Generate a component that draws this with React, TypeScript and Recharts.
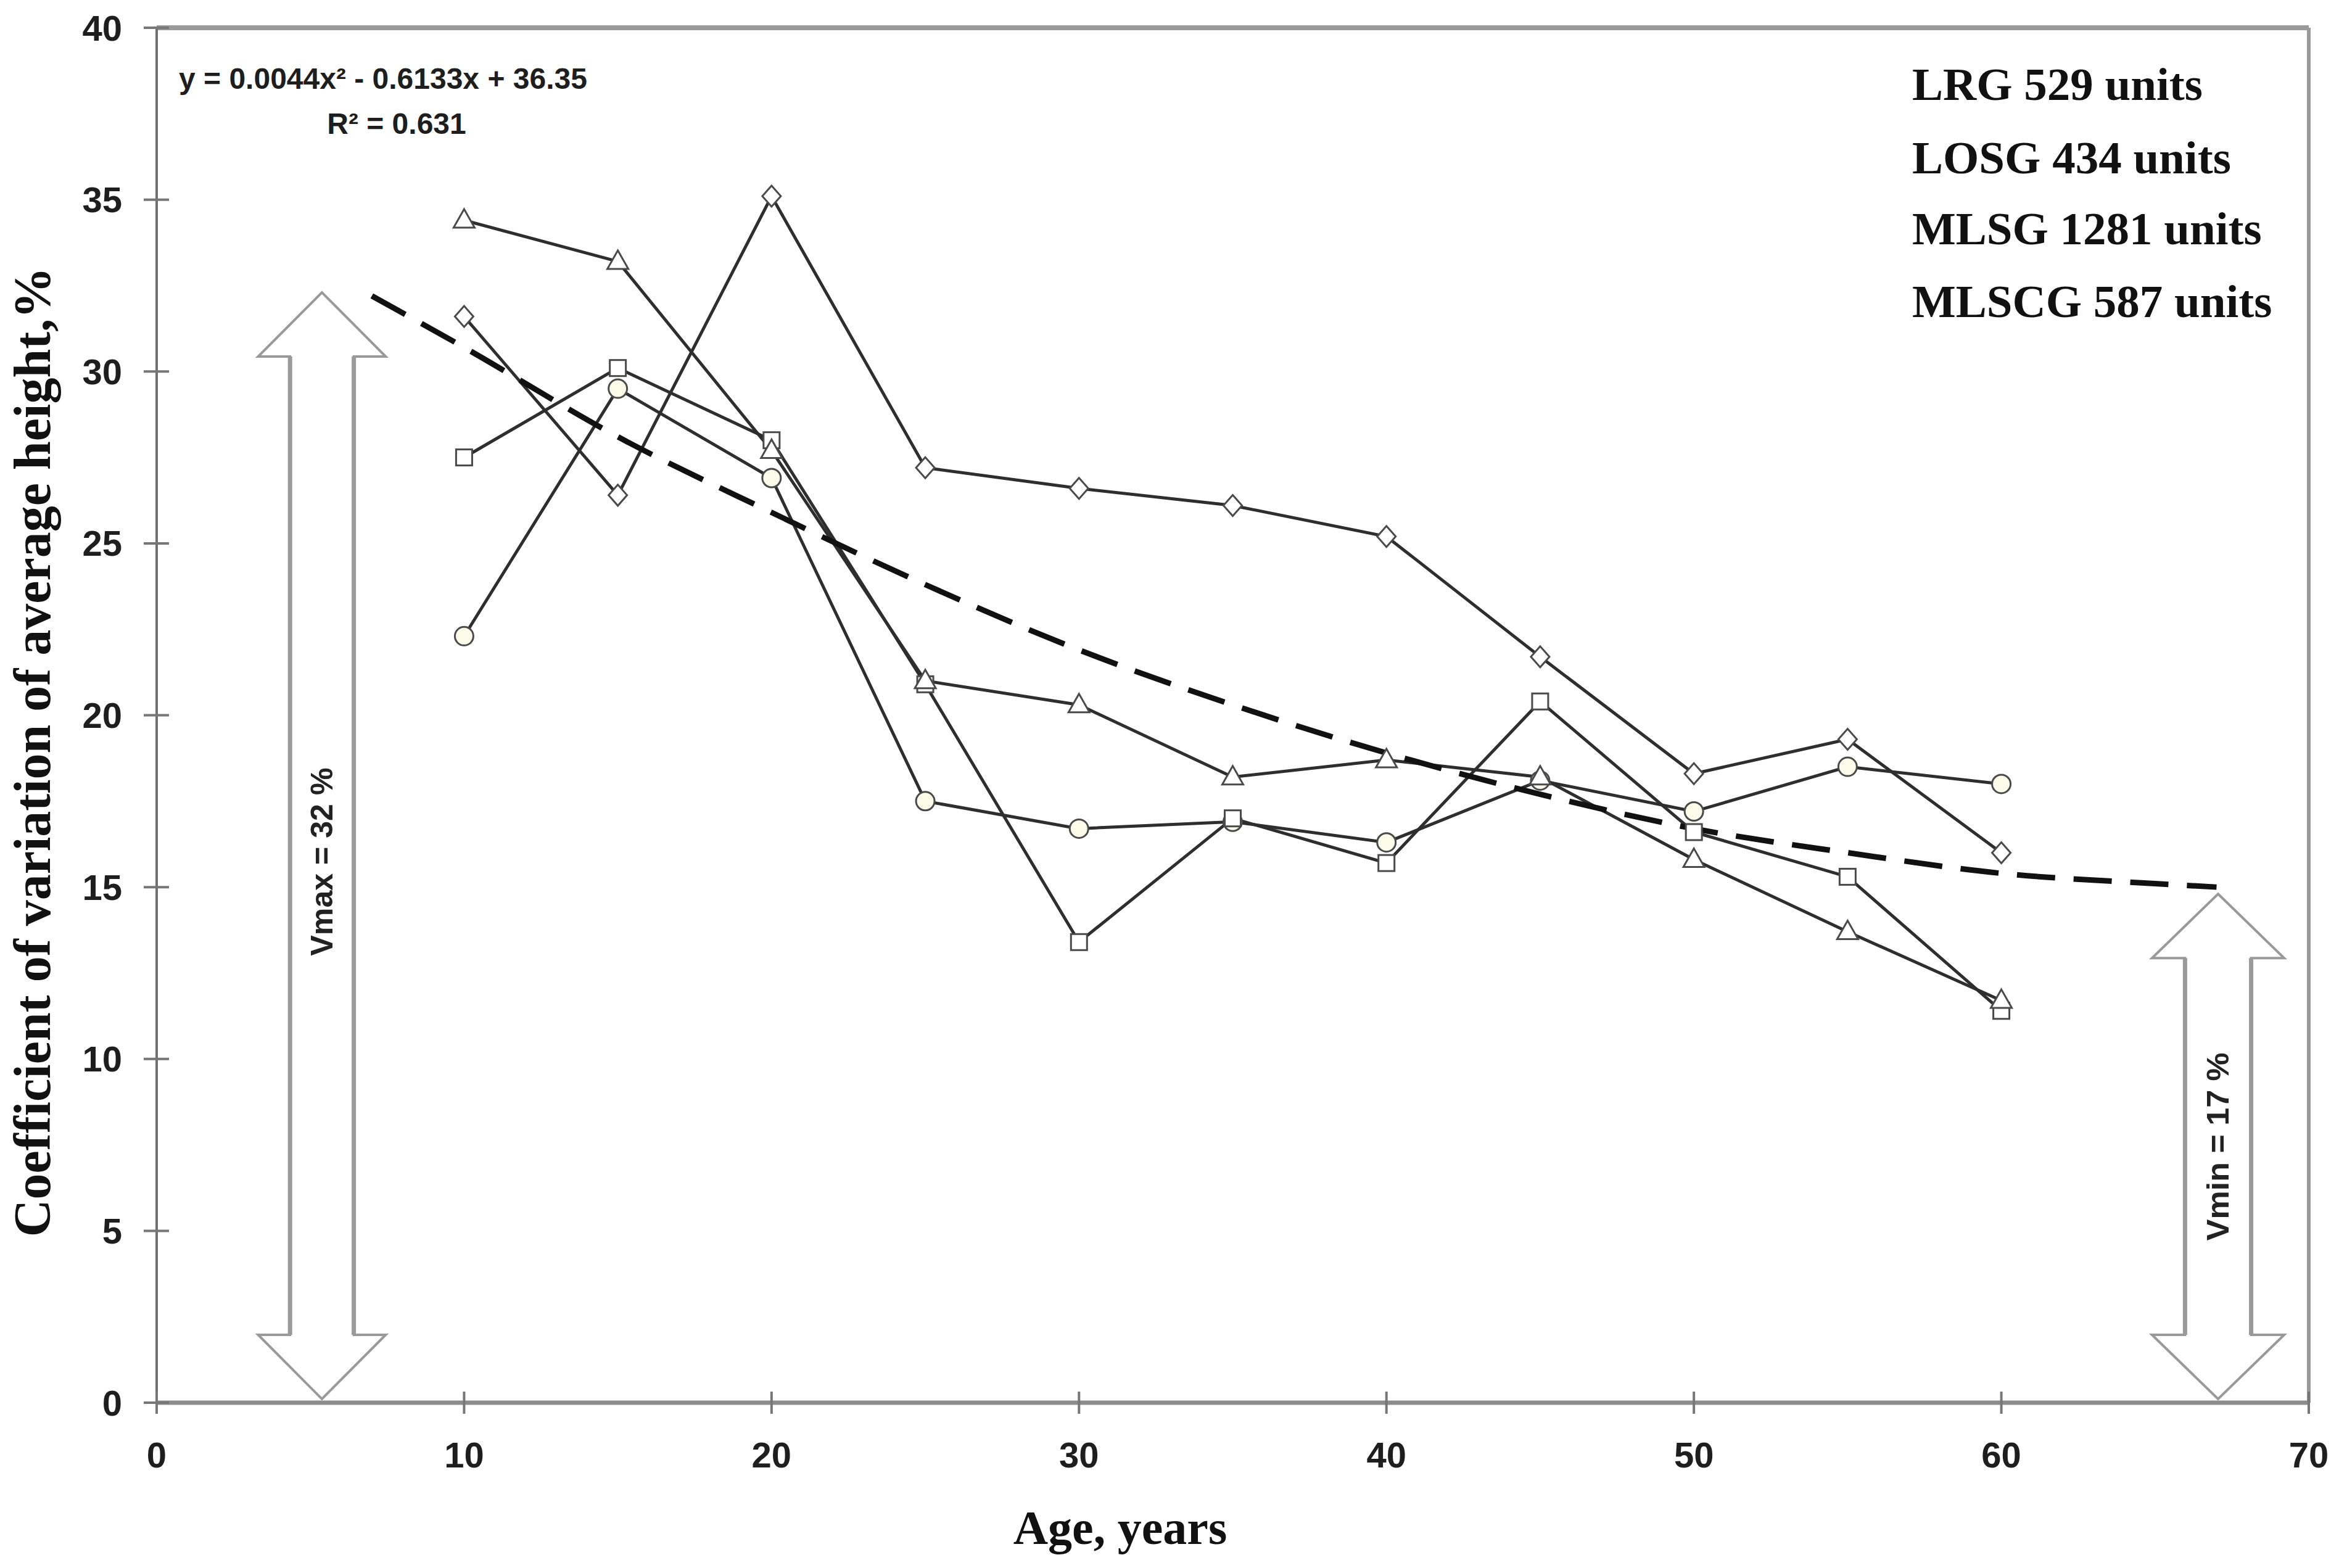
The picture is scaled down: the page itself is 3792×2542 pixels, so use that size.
import { Customized, Line, LineChart, ReferenceArea, ReferenceLine, XAxis, YAxis } from 'recharts';

// Age classes, years
const ages = [10, 15, 20, 25, 30, 35, 40, 45, 50, 55, 60];

// Coefficient of variation of average height, % (one array per marker type)
const triangleSeries = [34.4, 33.2, 27.7, 21.0, 20.3, 18.2, 18.7, 18.2, 15.8, 13.7, 11.7];
const squareSeries = [27.5, 30.1, 28.0, 20.9, 13.4, 17.0, 15.7, 20.4, 16.6, 15.3, 11.4];
const diamondSeries = [31.6, 26.4, 35.1, 27.2, 26.6, 26.1, 25.2, 21.7, 18.3, 19.3, 16.0];
const circleSeries = [22.3, 29.5, 26.9, 17.5, 16.7, 16.9, 16.3, 18.1, 17.2, 18.5, 18.0];

// Polynomial trend line
const trendAges = [7, 10, 15, 20, 25, 30, 35, 40, 45, 50, 55, 60, 65, 67];
const trendValues = [32.2, 30.7, 28.1, 25.9, 23.8, 21.9, 20.3, 18.9, 17.7, 16.7, 16.0, 15.4, 15.1, 15.0];

const xTicks = [0, 10, 20, 30, 40, 50, 60, 70];
const yTicks = [0, 5, 10, 15, 20, 25, 30, 35, 40];

const legendLines = ['LRG 529 units', 'LOSG 434 units', 'MLSG 1281 units', 'MLSCG 587 units'];
const equationText = 'y = 0.0044x² - 0.6133x + 36.35';
const r2Text = 'R² = 0.631';
const vmaxText = 'Vmax = 32 %';
const vminText = 'Vmin = 17 %';

const rows = ages.map((age, i) => ({
  age,
  triangle: triangleSeries[i],
  square: squareSeries[i],
  diamond: diamondSeries[i],
  circle: circleSeries[i],
}));
const trendRows = trendAges.map((age, i) => ({ age, trend: trendValues[i] }));

const MARKER_STROKE = '#4a4a4a';
const LINE_STROKE = '#2e2e2e';
const AXIS_GREY = '#8c8c8c';
const SANS = '"Liberation Sans", Arial, sans-serif';
const SERIF = '"Liberation Serif", "Times New Roman", serif';

const TriangleDot = ({ cx, cy }: any) => (
  <polygon points={`${cx},${cy - 18} ${cx - 17},${cy + 12} ${cx + 17},${cy + 12}`} fill="#fff" stroke={MARKER_STROKE} strokeWidth={3} />
);
const SquareDot = ({ cx, cy }: any) => (
  <rect x={cx - 13} y={cy - 13} width={26} height={26} fill="#fff" stroke={MARKER_STROKE} strokeWidth={3} />
);
const DiamondDot = ({ cx, cy }: any) => (
  <polygon points={`${cx},${cy - 17} ${cx + 15},${cy} ${cx},${cy + 17} ${cx - 15},${cy}`} fill="#fff" stroke={MARKER_STROKE} strokeWidth={3} />
);
const CircleDot = ({ cx, cy }: any) => <circle cx={cx} cy={cy} r={15} fill="#fbfbe9" stroke={MARKER_STROKE} strokeWidth={3} />;

// hollow double-headed arrow filling the reference area
const DoubleArrow = ({ x, y, width, height, text, textDy }: any) => {
  const head = 104;
  const cx = x + width / 2;
  const half = width / 2;
  const shaft = width * 0.25;
  const top = y;
  const bottom = y + height - 6;
  const pts = [
    [cx, top],
    [cx + half, top + head],
    [cx + shaft, top + head],
    [cx + shaft, bottom - head],
    [cx + half, bottom - head],
    [cx, bottom],
    [cx - half, bottom - head],
    [cx - shaft, bottom - head],
    [cx - shaft, top + head],
    [cx - half, top + head],
  ]
    .map((p) => p.join(','))
    .join(' ');
  const ty = (top + bottom) / 2 + textDy;
  return (
    <g>
      <polygon points={pts} fill="#fff" stroke="#999" strokeWidth={4} />
      <line x1={cx - shaft} y1={top + head} x2={cx - shaft} y2={bottom - head} stroke="#9a9a9a" strokeWidth={7} />
      <line x1={cx + shaft} y1={top + head} x2={cx + shaft} y2={bottom - head} stroke="#9a9a9a" strokeWidth={7} />
      <text
        x={cx}
        y={ty}
        transform={`rotate(-90 ${cx} ${ty})`}
        textAnchor="middle"
        dominantBaseline="central"
        fontFamily={SANS}
        fontWeight="bold"
        fontSize={50}
        textLength={305}
        lengthAdjust="spacingAndGlyphs"
        fill="#222"
      >
        {text}
      </text>
    </g>
  );
};

const YTick = ({ x, y, payload }: any) => {
  const axisX = x + 36 + 20;
  return (
    <g>
      <line x1={axisX - 21} x2={axisX + 20} y1={y} y2={y} stroke="#777" strokeWidth={4} />
      <text x={axisX - 56} y={y} textAnchor="end" dominantBaseline="central" fontFamily={SANS} fontWeight="bold" fontSize={58} fill="#1e1e1e">
        {payload.value}
      </text>
    </g>
  );
};

const XTick = ({ x, y, payload }: any) => {
  const axisY = y - 18;
  return (
    <g>
      <line x1={x} x2={x} y1={axisY - 18} y2={axisY + 18} stroke="#777" strokeWidth={4} />
      <text x={x} y={axisY + 84} textAnchor="middle" dominantBaseline="central" fontFamily={SANS} fontWeight="bold" fontSize={58} fill="#1e1e1e">
        {payload.value}
      </text>
    </g>
  );
};

const Annotations = () => (
  <g>
    <text
      x={52}
      y={1219}
      transform="rotate(-90 52 1219)"
      textAnchor="middle"
      dominantBaseline="central"
      fontFamily={SERIF}
      fontWeight="bold"
      fontSize={84}
      fill="#111"
    >
      Coefficient of variation of average height,%
    </text>
    <text x={1816} y={2476} textAnchor="middle" dominantBaseline="central" fontFamily={SERIF} fontWeight="bold" fontSize={78} fill="#111">
      Age, years
    </text>
    <text x={290} y={127} dominantBaseline="central" fontFamily={SANS} fontWeight="bold" fontSize={48} fill="#1e1e1e">
      {equationText}
    </text>
    <text x={643} y={200} textAnchor="middle" dominantBaseline="central" fontFamily={SANS} fontWeight="bold" fontSize={48} fill="#1e1e1e">
      {r2Text}
    </text>
    {legendLines.map((line, i) => (
      <text key={line} x={3100} y={[136, 255, 370, 488][i]} dominantBaseline="central" fontFamily={SERIF} fontWeight="bold" fontSize={75} fill="#111">
        {line}
      </text>
    ))}
  </g>
);

export default function App() {
  return (
    <div style={{ width: 3792, height: 2542, background: '#fff' }}>
      <style>{'body{margin:0;}'}</style>
      <LineChart width={3792} height={2542} data={rows} margin={{ top: 45, right: 49, bottom: 0, left: 0 }}>
        <XAxis
          type="number"
          dataKey="age"
          domain={[0, 70]}
          ticks={xTicks}
          height={268}
          tickSize={18}
          tickMargin={0}
          tickLine={false}
          tick={<XTick />}
          stroke={AXIS_GREY}
          strokeWidth={7}
          allowDataOverflow
        />
        <YAxis
          type="number"
          domain={[0, 40]}
          ticks={yTicks}
          width={254}
          tickSize={20}
          tickMargin={36}
          tickLine={false}
          tick={<YTick />}
          stroke="#707070"
          strokeWidth={4}
          allowDataOverflow
        />
        <ReferenceLine y={40} stroke="#9a9a9a" strokeWidth={8} />
        <ReferenceLine x={70} stroke="#9a9a9a" strokeWidth={6} />
        <ReferenceArea x1={3.3} x2={7.45} y1={0} y2={32.3} fill="none" shape={(p: any) => <DoubleArrow {...p} text={vmaxText} textDy={26} />} />
        <ReferenceArea x1={64.9} x2={69.2} y1={0} y2={14.8} fill="none" shape={(p: any) => <DoubleArrow {...p} text={vminText} textDy={0} />} />
        <Line dataKey="diamond" type="linear" stroke={LINE_STROKE} strokeWidth={5} dot={(p: any) => <DiamondDot key={p.key} {...p} />} isAnimationActive={false} />
        <Line dataKey="circle" type="linear" stroke={LINE_STROKE} strokeWidth={5} dot={(p: any) => <CircleDot key={p.key} {...p} />} isAnimationActive={false} />
        <Line dataKey="square" type="linear" stroke={LINE_STROKE} strokeWidth={5} dot={(p: any) => <SquareDot key={p.key} {...p} />} isAnimationActive={false} />
        <Line dataKey="triangle" type="linear" stroke={LINE_STROKE} strokeWidth={5} dot={(p: any) => <TriangleDot key={p.key} {...p} />} isAnimationActive={false} />
        <Line
          data={trendRows}
          dataKey="trend"
          type="monotone"
          stroke="#111"
          strokeWidth={9}
          strokeDasharray="62 30"
          dot={false}
          isAnimationActive={false}
        />
        <Customized component={Annotations} />
      </LineChart>
    </div>
  );
}
